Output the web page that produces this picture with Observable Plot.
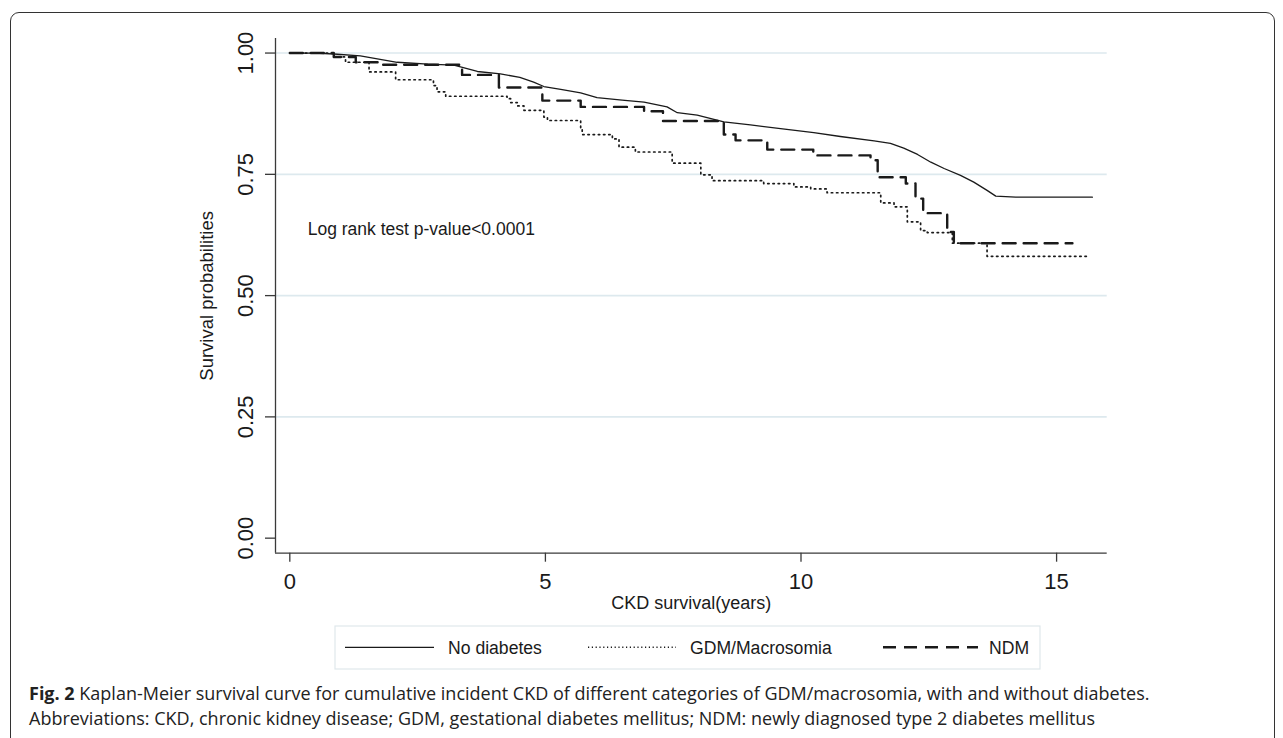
<!DOCTYPE html>
<html>
<head>
<meta charset="utf-8">
<script src="https://cdn.jsdelivr.net/npm/d3@7"></script>
<script src="https://cdn.jsdelivr.net/npm/@observablehq/plot@0.6"></script>
<style>
  html, body { margin: 0; padding: 0; background: #fff; }
  body { width: 1283px; height: 738px; position: relative; overflow: hidden; }
  #border { position: absolute; left: 10px; top: 12px; width: 1265px; height: 800px;
            border: 1.5px solid #333; border-radius: 9px; box-sizing: border-box; }
  #chart { position: absolute; left: 0; top: 0; }
  #legend { position: absolute; left: 0; top: 0; }
  #caption { position: absolute; left: 29px; top: 680.5px; width: 1245px; white-space: nowrap;
             font-family: "Open Sans", "Noto Sans", sans-serif; font-size: 18px;
             line-height: 25px; color: #222; }
  #caption b { font-weight: 700; }
</style>
</head>
<body>
<div id="border"></div>
<div id="chart"></div>
<svg id="legend" width="1283" height="738"></svg>
<div id="caption">
  <div><b>Fig. 2</b> Kaplan-Meier survival curve for cumulative incident CKD of different categories of GDM/macrosomia, with and without diabetes.</div>
  <div>Abbreviations: CKD, chronic kidney disease; GDM, gestational diabetes mellitus; NDM: newly diagnosed type 2 diabetes mellitus</div>
</div>
<script>
// ---- Data ----
const noDiabetesTime = [0, 0.5, 0.86, 1.38, 2.1, 2.7, 3.21, 3.67, 4.12, 4.5, 4.77, 4.97, 5.3, 5.69, 6.01, 6.5, 6.93, 7.38, 7.58, 7.97, 8.49, 9.01, 9.6, 10.25, 10.77, 11.43, 11.75, 12.01, 12.28, 12.54, 12.8, 13.12, 13.38, 13.64, 13.81, 14.2, 15.7];
const noDiabetesSurv = [1.0, 1.0, 0.998, 0.994, 0.981, 0.977, 0.975, 0.962, 0.957, 0.95, 0.94, 0.931, 0.925, 0.918, 0.908, 0.903, 0.899, 0.889, 0.877, 0.872, 0.858, 0.852, 0.844, 0.836, 0.828, 0.819, 0.814, 0.804, 0.791, 0.775, 0.762, 0.748, 0.734, 0.717, 0.705, 0.703, 0.703];

const gdmTime = [0, 0.86, 1.09, 1.55, 2.07, 2.81, 2.88, 3.05, 4.25, 4.32, 4.45, 4.58, 4.97, 5.04, 5.69, 5.72, 6.31, 6.44, 6.76, 7.48, 8.04, 8.26, 9.27, 9.86, 10.19, 10.51, 11.56, 11.82, 12.08, 12.34, 12.47, 12.96, 13.64, 15.63];
const gdmSurv = [1.0, 0.992, 0.981, 0.961, 0.945, 0.933, 0.92, 0.911, 0.906, 0.898, 0.891, 0.882, 0.868, 0.861, 0.842, 0.832, 0.823, 0.806, 0.796, 0.773, 0.749, 0.737, 0.731, 0.724, 0.72, 0.712, 0.691, 0.683, 0.652, 0.634, 0.63, 0.608, 0.581, 0.581];

const ndmTime = [0, 0.86, 1.29, 1.81, 3.37, 4.09, 4.94, 5.69, 6.93, 7.3, 8.49, 8.72, 9.34, 10.24, 11.36, 11.5, 12.05, 12.24, 12.39, 12.86, 12.99, 15.31];
const ndmSurv = [1.0, 0.992, 0.981, 0.976, 0.955, 0.929, 0.902, 0.889, 0.88, 0.86, 0.832, 0.82, 0.801, 0.789, 0.779, 0.744, 0.731, 0.7, 0.67, 0.631, 0.608, 0.608];

const seriesNames = ["No diabetes", "GDM/Macrosomia", "NDM"];
const xTicks = [0, 5, 10, 15];
const yTicks = [0, 0.25, 0.5, 0.75, 1];
const gridTicks = [0.25, 0.5, 0.75, 1];
const xDomain = [-0.28, 15.99];
const yDomain = [-0.031, 1.03];
const xLabel = "CKD survival(years)";
const yLabel = "Survival probabilities";
const annotText = ["Log rank test p-value<0.0001"];
const annotX = [0.35];
const annotY = [0.637];

const toRows = (t, s) => t.map((d, i) => ({t: d, s: s[i]}));
const noDiab = toRows(noDiabetesTime, noDiabetesSurv);
const gdm = toRows(gdmTime, gdmSurv);
const ndm = toRows(ndmTime, ndmSurv);

const font = "'Liberation Sans', Arial, Helvetica, sans-serif";
const ink = "#1a1a1a";

const chart = Plot.plot({
  width: 1283,
  height: 600,
  marginLeft: 275,
  marginRight: 176.3,
  marginTop: 38,
  marginBottom: 47.3,
  style: {fontFamily: font, color: ink, background: "transparent", overflow: "visible"},
  x: {domain: xDomain},
  y: {domain: yDomain},
  marks: [
    Plot.gridY(gridTicks, {stroke: "#dde9ee", strokeOpacity: 1, strokeWidth: 1.6}),
    Plot.ruleX([xDomain[0]], {stroke: "#3a3a3a", strokeWidth: 1.3}),
    Plot.ruleY([yDomain[0]], {stroke: "#3a3a3a", strokeWidth: 1.3}),
    Plot.axisY({ticks: yTicks, tickSize: 10, tickFormat: () => "", stroke: "#3a3a3a", strokeWidth: 1.3, label: null}),
    Plot.text(yTicks, {y: d => d, text: d => d.toFixed(2), frameAnchor: "left", dx: -29.5, rotate: -90,
      textAnchor: "middle", lineAnchor: "middle", fontSize: 22, fill: ink}),
    Plot.axisX({ticks: xTicks, tickSize: 9, tickPadding: 11, fontSize: 22, stroke: "#3a3a3a", strokeWidth: 1.3, fill: ink, label: null}),
    Plot.text([xLabel], {frameAnchor: "bottom", dy: 55.3, lineAnchor: "bottom", fontSize: 18, fill: ink}),
    Plot.text([yLabel], {frameAnchor: "left", dx: -68, rotate: -90, textAnchor: "middle", lineAnchor: "middle", fontSize: 18.5, fill: ink}),
    Plot.text(annotText, {x: (d, i) => annotX[i], y: (d, i) => annotY[i], text: d => d, textAnchor: "start", lineAnchor: "middle", fontSize: 17.5, fill: ink}),
    Plot.line(noDiab, {x: "t", y: "s", stroke: ink, strokeWidth: 1.3, curve: "linear"}),
    Plot.line(gdm, {x: "t", y: "s", stroke: ink, strokeWidth: 1.7, strokeDasharray: "1.4,3.8", curve: "step-after"}),
    Plot.line(ndm, {x: "t", y: "s", stroke: ink, strokeWidth: 2.4, strokeDasharray: "13,8", curve: "step-after"})
  ]
});
document.getElementById("chart").appendChild(chart);

// ---- Legend ----
const lg = d3.select("#legend");
lg.append("rect").attr("x", 335).attr("y", 626).attr("width", 705).attr("height", 43)
  .attr("fill", "none").attr("stroke", "#dfe8ec").attr("stroke-width", 1.2);
const legendItems = [
  {name: seriesNames[0], x1: 345, x2: 434, tx: 448, w: 1.3, dash: null},
  {name: seriesNames[1], x1: 588, x2: 676, tx: 690, w: 1.5, dash: "1.2,2.6"},
  {name: seriesNames[2], x1: 883, x2: 978, tx: 989, w: 2.4, dash: "13,8"}
];
legendItems.forEach(it => {
  const l = lg.append("line").attr("x1", it.x1).attr("x2", it.x2).attr("y1", 647.3).attr("y2", 647.3)
    .attr("stroke", ink).attr("stroke-width", it.w);
  if (it.dash) l.attr("stroke-dasharray", it.dash);
  lg.append("text").attr("x", it.tx).attr("y", 654.3).attr("font-family", font).attr("font-size", 17.6)
    .attr("fill", ink).text(it.name);
});
</script>
</body>
</html>
